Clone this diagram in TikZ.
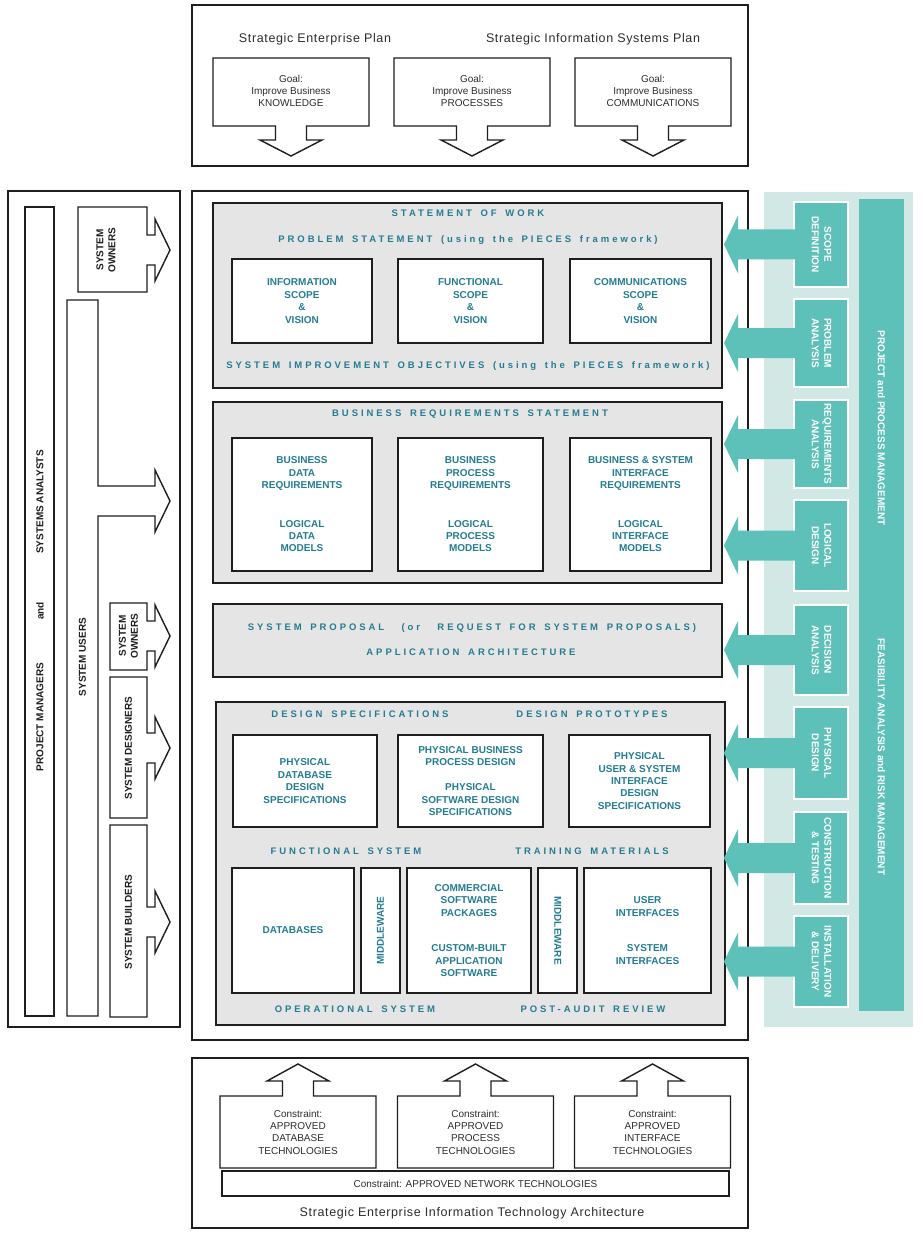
\documentclass[tikz,border=0pt]{standalone}
\usepackage{fontspec}
\setmainfont{Liberation Sans}
\newfontfamily\trkf[LetterSpace=31,WordSpace=1.55]{Liberation Sans}
\newfontfamily\ttlf[LetterSpace=5]{Liberation Sans}
\definecolor{linec}{RGB}{30,30,30}
\definecolor{greytxt}{RGB}{45,45,45}
\definecolor{tealtxt}{RGB}{36,124,145}
\definecolor{tealc}{RGB}{94,193,185}
\definecolor{tealbg}{RGB}{210,232,229}
\definecolor{grayc}{RGB}{229,229,229}
\newcommand\mydnbox[3]{\draw[wline] ({#1-78},#2) -- ({#1+78},#2) -- ({#1+78},#3) -- ({#1+15.5},#3) -- ({#1+15.5},{#3+14}) -- ({#1+31},{#3+14}) -- (#1,{#3+30}) -- ({#1-31},{#3+14}) -- ({#1-15.5},{#3+14}) -- ({#1-15.5},#3) -- ({#1-78},#3) -- cycle;}
\newcommand\myupbox[3]{\draw[wline] ({#1-78},#3) -- ({#1-78},#2) -- ({#1-15.5},#2) -- ({#1-15.5},{#2-15}) -- ({#1-31},{#2-15}) -- (#1,{#2-32}) -- ({#1+31},{#2-15}) -- ({#1+15.5},{#2-15}) -- ({#1+15.5},#2) -- ({#1+78},#2) -- ({#1+78},#3) -- cycle;}
\newcommand\myrtbox[4]{\draw[wline] (#1,#2) -- (147,#2) -- (147,{#4-15}) -- (155,{#4-15}) -- (155,{#4-31}) -- (170,#4) -- (155,{#4+31}) -- (155,{#4+15}) -- (147,{#4+15}) -- (147,#3) -- (#1,#3) -- cycle;}
\newcommand\mytarrow[1]{\fill[tealc] (796,{#1-15}) -- (738,{#1-15}) -- (738,{#1-29}) -- (724,#1) -- (738,{#1+29}) -- (738,{#1+15}) -- (796,{#1+15}) -- cycle;}
\begin{document}
\begin{tikzpicture}[x=1pt,y=-1pt,
  wline/.style={draw=linec, line width=1.4pt, fill=white},
  obox/.style={draw=linec, line width=1.4pt, fill=white},
  gbox/.style={draw=linec, line width=1.8pt, fill=grayc},
  ibox/.style={draw=linec, line width=1.8pt, fill=white, inner sep=0pt, text=tealtxt, font=\bfseries\fontsize{10}{12.4}\selectfont, align=center},
  itxt/.style={inner sep=0pt, text=tealtxt, font=\bfseries\fontsize{10}{12.4}\selectfont, align=center},
  hd/.style={text=tealtxt, font=\trkf\bfseries\fontsize{9.5}{11}\selectfont, inner sep=0pt},
  gtxt/.style={text=greytxt, font=\fontsize{10}{12.3}\selectfont, align=center, inner sep=0pt},
  ttl/.style={text=greytxt, font=\ttlf\fontsize{12.5}{14}\selectfont, inner sep=0pt},
  ltxt/.style={text=linec, font=\bfseries\fontsize{10}{12}\selectfont, align=center, rotate=90, inner sep=0pt},
  tbox/.style={fill=tealc, draw=white, line width=1.2pt, inner sep=0pt},
  ttxt/.style={text=white, font=\bfseries\fontsize{10}{12.5}\selectfont, align=center, rotate=-90, inner sep=0pt},
  btxt/.style={text=white, font=\bfseries\fontsize{10}{12.5}\selectfont, rotate=-90, inner sep=0pt},
]
\useasboundingbox (0,0) rectangle (922,1246);
\fill[white] (0,0) rectangle (922,1246);

% ---------- top box ----------
\draw[obox] (192,5) rectangle (748,166);
\node[ttl] (sep) at (315,39) {Strategic Enterprise Plan};
\node[ttl] (sisp) at (593,39) {Strategic Information Systems Plan};
\mydnbox{291}{58}{126}
\mydnbox{472}{58}{126}
\mydnbox{653}{58}{126}
\node[gtxt] (g1) at (291,91) {Goal:\\Improve Business\\KNOWLEDGE};
\node[gtxt] (g2) at (472,91) {Goal:\\Improve Business\\PROCESSES};
\node[gtxt] (g3) at (653,91) {Goal:\\Improve Business\\COMMUNICATIONS};

% ---------- left box ----------
\draw[obox] (8,191) rectangle (180,1027);
\draw[wline] (25,207) rectangle (54,1016);
\node[ltxt] (sa) at (40,502) {SYSTEMS ANALYSTS};
\node[ltxt] (andl) at (40,611) {and};
\node[ltxt] (pm) at (40,717) {PROJECT MANAGERS};
\draw[wline] (67,300) -- (98,300) -- (98,486) -- (155,486) -- (155,470) -- (170,501) -- (155,532) -- (155,516) -- (98,516) -- (98,1016) -- (67,1016) -- cycle;
\node[ltxt] (su) at (82.5,657) {SYSTEM USERS};
\myrtbox{78}{207}{292}{250}
\node[ltxt] (so1) at (106,250) {SYSTEM\\OWNERS};
\myrtbox{110}{603}{670}{636}
\node[ltxt] (so2) at (128.5,636) {SYSTEM\\OWNERS};
\myrtbox{110}{677}{818}{748}
\node[ltxt] (sdg) at (128.5,748) {SYSTEM DESIGNERS};
\myrtbox{110}{825}{1017}{922}
\node[ltxt] (sbl) at (128.5,922) {SYSTEM BUILDERS};

% ---------- right teal background ----------
\fill[tealbg] (764,192) rectangle (913,1027);

% ---------- main box ----------
\draw[obox] (192,191) rectangle (748,1040);

% section 1
\draw[gbox] (213,203) rectangle (722,388);
\node[hd] (sow) at (468,213) {STATEMENT OF WORK};
\node[hd] (ps) at (468,240) {PROBLEM STATEMENT (using the PIECES framework)};
\node[ibox, minimum width=140pt, minimum height=84pt] (isv) at (302,301) {INFORMATION\\SCOPE\\\&\\VISION};
\node[ibox, minimum width=145pt, minimum height=84pt] (fsv) at (470.5,301) {FUNCTIONAL\\SCOPE\\\&\\VISION};
\node[ibox, minimum width=141pt, minimum height=84pt] (csv) at (640.5,301) {COMMUNICATIONS\\SCOPE\\\&\\VISION};
\node[hd] (sio) at (468,366) {SYSTEM IMPROVEMENT OBJECTIVES (using the PIECES framework)};

% section 2
\draw[gbox] (213,402) rectangle (722,583);
\node[hd] (brs) at (470,414) {BUSINESS REQUIREMENTS STATEMENT};
\node[ibox, minimum width=140pt, minimum height=133pt] (bdr) at (302,504.5) {BUSINESS\\DATA\\REQUIREMENTS\\[26pt]LOGICAL\\DATA\\MODELS};
\node[ibox, minimum width=145pt, minimum height=133pt] (bpr) at (470.5,504.5) {BUSINESS\\PROCESS\\REQUIREMENTS\\[26pt]LOGICAL\\PROCESS\\MODELS};
\node[ibox, minimum width=141pt, minimum height=133pt] (bir) at (640.5,504.5) {BUSINESS \& SYSTEM\\INTERFACE\\REQUIREMENTS\\[26pt]LOGICAL\\INTERFACE\\MODELS};

% section 3
\draw[gbox] (213,604) rectangle (722,677);
\node[hd] (sp) at (472,628) {SYSTEM PROPOSAL\ \ (or\ \ REQUEST FOR SYSTEM PROPOSALS)};
\node[hd] (aa) at (471,652) {APPLICATION ARCHITECTURE};

% section 4
\draw[gbox] (216,702) rectangle (725,1025);
\node[hd] (dsp) at (360,714) {DESIGN SPECIFICATIONS};
\node[hd] (dpr) at (592,714) {DESIGN PROTOTYPES};
\node[ibox, minimum width=144pt, minimum height=92pt] (pdd) at (305,781) {PHYSICAL\\DATABASE\\DESIGN\\SPECIFICATIONS};
\node[ibox, minimum width=145pt, minimum height=92pt] (pbp) at (470.5,781) {PHYSICAL BUSINESS\\PROCESS DESIGN\\[13pt]PHYSICAL\\SOFTWARE DESIGN\\SPECIFICATIONS};
\node[ibox, minimum width=141pt, minimum height=92pt] (pui) at (639.5,781) {PHYSICAL\\USER \& SYSTEM\\INTERFACE\\DESIGN\\SPECIFICATIONS};
\node[hd] (fs) at (346,851) {FUNCTIONAL SYSTEM};
\node[hd] (tm) at (592,851) {TRAINING MATERIALS};
\node[ibox, minimum width=122pt, minimum height=125pt] (db) at (293,930.5) {DATABASES};
\node[ibox, minimum width=39pt, minimum height=125pt] (mw1) at (380.5,930.5) {};
\node[itxt, rotate=90] (mw1t) at (380.5,930.5) {MIDDLEWARE};
\node[ibox, minimum width=124pt, minimum height=125pt] (csp) at (469,930.5) {COMMERCIAL\\SOFTWARE\\PACKAGES\\[23pt]CUSTOM-BUILT\\APPLICATION\\SOFTWARE};
\node[ibox, minimum width=39pt, minimum height=125pt] (mw2) at (557.75,930.5) {};
\node[itxt, rotate=-90] (mw2t) at (557.75,930.5) {MIDDLEWARE};
\node[ibox, minimum width=127pt, minimum height=125pt] (ui) at (647.5,930.5) {USER\\INTERFACES\\[23pt]SYSTEM\\INTERFACES};
\node[hd] (os) at (355,1009) {OPERATIONAL SYSTEM};
\node[hd] (par) at (593,1009) {POST-AUDIT REVIEW};

% ---------- teal column ----------
\fill[tealc] (859,199) rectangle (904,1011);
\node[btxt] (ppm) at (881.5,428) {PROJECT and PROCESS MANAGEMENT};
\node[btxt] (farm) at (881.5,757) {FEASIBILITY ANALYSIS and RISK MANAGEMENT};

\node[tbox, minimum width=54pt, minimum height=85pt] (t1) at (821,244.5) {};
\node[tbox, minimum width=54pt, minimum height=88pt] (t2) at (821,343) {};
\node[tbox, minimum width=54pt, minimum height=88pt] (t3) at (821,444) {};
\node[tbox, minimum width=54pt, minimum height=91pt] (t4) at (821,545.5) {};
\node[tbox, minimum width=54pt, minimum height=90pt] (t5) at (821,650) {};
\node[tbox, minimum width=54pt, minimum height=92pt] (t6) at (821,753) {};
\node[tbox, minimum width=54pt, minimum height=92pt] (t7) at (821,858) {};
\node[tbox, minimum width=54pt, minimum height=91pt] (t8) at (821,961.5) {};
\mytarrow{244.5}
\mytarrow{343}
\mytarrow{444}
\mytarrow{545.5}
\mytarrow{650}
\mytarrow{753}
\mytarrow{858}
\mytarrow{961.5}
\node[ttxt] (t1t) at (821.5,244.5) {SCOPE\\DEFINITION};
\node[ttxt] (t2t) at (821.5,343) {PROBLEM\\ANALYSIS};
\node[ttxt] (t3t) at (821.5,444) {REQUIREMENTS\\ANALYSIS};
\node[ttxt] (t4t) at (821.5,545.5) {LOGICAL\\DESIGN};
\node[ttxt] (t5t) at (821.5,650) {DECISION\\ANALYSIS};
\node[ttxt] (t6t) at (821.5,753) {PHYSICAL\\DESIGN};
\node[ttxt] (t7t) at (821.5,858) {CONSTRUCTION\\\& TESTING};
\node[ttxt] (t8t) at (821.5,961.5) {INSTALLATION\\\& DELIVERY};

% ---------- bottom box ----------
\draw[obox] (192,1058) rectangle (748,1228);
\myupbox{298}{1096}{1168}
\myupbox{475.5}{1096}{1168}
\myupbox{652.5}{1096}{1168}
\node[gtxt] (c1) at (298,1132) {Constraint:\\APPROVED\\DATABASE\\TECHNOLOGIES};
\node[gtxt] (c2) at (475.5,1132) {Constraint:\\APPROVED\\PROCESS\\TECHNOLOGIES};
\node[gtxt] (c3) at (652.5,1132) {Constraint:\\APPROVED\\INTERFACE\\TECHNOLOGIES};
\node[draw=linec, line width=1.4pt, fill=white, minimum width=507pt, minimum height=25pt, inner sep=0pt, text=greytxt, font=\fontsize{10}{12}\selectfont] (net) at (475.5,1183.5) {Constraint: APPROVED NETWORK TECHNOLOGIES};
\node[ttl] (seita) at (472,1213) {Strategic Enterprise Information Technology Architecture};
\end{tikzpicture}
\end{document}
